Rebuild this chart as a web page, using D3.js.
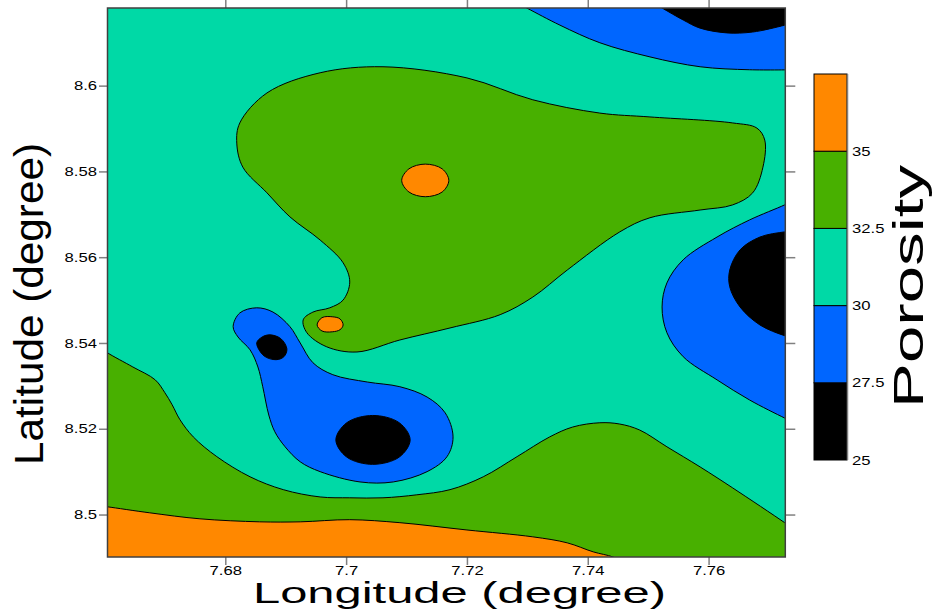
<!DOCTYPE html>
<html>
<head>
<meta charset="utf-8">
<script src="https://cdn.jsdelivr.net/npm/d3@7"></script>
<style>
  body { margin: 0; background: #fff; }
  svg { display: block; font-family: "Liberation Sans", Arial, sans-serif; }
</style>
</head>
<body>
<div id="chart"></div>
<script>
// contour levels and their fill colours (band i runs from levels[i] to levels[i+1])
const levels = [25, 27.5, 30, 32.5, 35, 37.5];
const bandColors = ["#000000", "#0066ff", "#00d9a6", "#48b000", "#ff8800"];

const lonTicks = [7.68, 7.70, 7.72, 7.74, 7.76];
const latTicks = [8.50, 8.52, 8.54, 8.56, 8.58, 8.60];
const legendTicks = [25, 27.5, 30, 32.5, 35];
const lonDomain = [7.6605, 7.7727];
const latDomain = [8.4901, 8.6181];

// closed contours [lon, lat]
const greenCentral = [[7.6819,8.5866],[7.6824,8.5913],[7.6869,8.5983],[7.6957,8.6030],[7.7061,8.6044],[7.7200,8.6018],
  [7.7309,8.5967],[7.7420,8.5936],[7.7503,8.5927],[7.7640,8.5913],[7.7680,8.5901],[7.7693,8.5873],[7.7690,8.5810],
  [7.7673,8.5750],[7.7640,8.5722],[7.7586,8.5710],[7.7503,8.5692],[7.7453,8.5659],[7.7366,8.5570],[7.7309,8.5507],
  [7.7255,8.5466],[7.7172,8.5435],[7.7089,8.5407],[7.7018,8.5379],[7.6968,8.5391],[7.6935,8.5424],[7.6929,8.5454],
  [7.6945,8.5472],[7.6973,8.5482],[7.6995,8.5500],[7.7006,8.5542],[7.6995,8.5587],[7.6957,8.5640],[7.6907,8.5694],
  [7.6869,8.5750],[7.6829,8.5810]];
const orangeCentral = [[7.7092,8.5779],[7.7104,8.5806],[7.7131,8.5817],[7.7159,8.5806],[7.7170,8.5779],[7.7159,8.5752],[7.7131,8.5741],[7.7104,8.5752]];
const orangeTail = [[7.6952,8.5442],[7.6960,8.5459],[7.6978,8.5461],[7.6990,8.5456],[7.6995,8.5442],[7.6990,8.5431],[7.6977,8.5426],[7.6960,8.5428]];
const blueWest = [[7.6813,8.5438],[7.6824,8.5470],[7.6852,8.5482],[7.6879,8.5472],[7.6907,8.5438],[7.6924,8.5400],
  [7.6945,8.5354],[7.6978,8.5326],[7.7035,8.5309],[7.7089,8.5298],[7.7134,8.5274],[7.7164,8.5237],[7.7177,8.5181],
  [7.7167,8.5135],[7.7134,8.5100],[7.7078,8.5076],[7.7023,8.5076],[7.6957,8.5100],[7.6924,8.5123],[7.6899,8.5158],
  [7.6882,8.5193],[7.6872,8.5232],[7.6862,8.5298],[7.6854,8.5344],[7.6841,8.5384],[7.6821,8.5414]];
const blackWestSmall = [[7.6852,8.5400],[7.6861,8.5414],[7.6874,8.5419],[7.6892,8.5410],[7.6902,8.5386],[7.6897,8.5368],[7.6884,8.5361],[7.6864,8.5370]];
const blackWestCentral = [[7.6983,8.5174],[7.7001,8.5214],[7.7044,8.5231],[7.7088,8.5214],[7.7106,8.5174],[7.7088,8.5134],[7.7044,8.5117],[7.7001,8.5134]];

// contours that run into the map edge: the curve, then corners outside the frame
const blueNorthEast = [[7.7273,8.6200],[7.7299,8.6181],[7.7354,8.6141],[7.7420,8.6100],[7.7503,8.6067],[7.7586,8.6044],[7.7668,8.6037],[7.7743,8.6037]];
const blueNorthEastEdge = [[7.7743,8.6211],[7.7263,8.6211]];
const blackNorthEast = [[7.7500,8.6200],[7.7523,8.6181],[7.7558,8.6153],[7.7586,8.6134],[7.7630,8.6123],[7.7673,8.6125],[7.7726,8.6141],[7.7743,8.6148]];
const blackNorthEastEdge = [[7.7743,8.6211],[7.7486,8.6211]];
const blueEast = [[7.7743,8.5734],[7.7726,8.5722],[7.7668,8.5687],[7.7614,8.5647],[7.7558,8.5594],[7.7531,8.5540],[7.7523,8.5484],
  [7.7531,8.5424],[7.7558,8.5368],[7.7614,8.5314],[7.7668,8.5267],[7.7726,8.5225],[7.7743,8.5214]];
const blueEastEdge = [[7.7751,8.5214],[7.7751,8.5734]];
const blackEast = [[7.7743,8.5661],[7.7726,8.5659],[7.7685,8.5647],[7.7652,8.5617],[7.7635,8.5570],[7.7635,8.5531],[7.7652,8.5484],
  [7.7685,8.5442],[7.7726,8.5417],[7.7743,8.5412]];
const blackEastEdge = [[7.7751,8.5412],[7.7751,8.5661]];
const greenSouth = [[7.6593,8.5389],[7.6605,8.5377],[7.6647,8.5344],[7.6684,8.5314],[7.6700,8.5284],[7.6712,8.5256],[7.6725,8.5221],
  [7.6747,8.5181],[7.6786,8.5135],[7.6841,8.5088],[7.6896,8.5058],[7.6957,8.5041],[7.7006,8.5039],[7.7061,8.5039],[7.7117,8.5046],
  [7.7172,8.5058],[7.7227,8.5088],[7.7283,8.5135],[7.7337,8.5181],[7.7375,8.5204],[7.7420,8.5214],[7.7453,8.5211],[7.7486,8.5197],
  [7.7531,8.5158],[7.7586,8.5111],[7.7640,8.5062],[7.7726,8.4981],[7.7743,8.4964]];
const greenSouthEdge = [[7.7751,8.4964],[7.7751,8.4883],[7.6584,8.4883],[7.6584,8.5389]];
const orangeSouth = [[7.6593,8.5020],[7.6605,8.5018],[7.6675,8.5004],[7.6758,8.4990],[7.6857,8.4983],[7.6924,8.4983],[7.7006,8.4988],
  [7.7089,8.4981],[7.7200,8.4964],[7.7309,8.4948],[7.7366,8.4934],[7.7409,8.4913],[7.7442,8.4901],[7.7462,8.4887]];
const orangeSouthEdge = [[7.7470,8.4883],[7.6584,8.4883],[7.6584,8.5020]];

// drawing order, with the lower bound of each band
const layers = [
  { level: 32.5, pts: greenCentral },
  { level: 32.5, pts: greenSouth, edge: greenSouthEdge },
  { level: 35, pts: orangeCentral },
  { level: 35, pts: orangeTail },
  { level: 35, pts: orangeSouth, edge: orangeSouthEdge },
  { level: 27.5, pts: blueWest },
  { level: 27.5, pts: blueNorthEast, edge: blueNorthEastEdge },
  { level: 27.5, pts: blueEast, edge: blueEastEdge },
  { level: 25, pts: blackWestSmall },
  { level: 25, pts: blackWestCentral },
  { level: 25, pts: blackNorthEast, edge: blackNorthEastEdge },
  { level: 25, pts: blackEast, edge: blackEastEdge }
];

const width = 933, height = 615;
const plot = { left: 107.5, right: 785.3, top: 8, bottom: 557 };
const stretch = 1.28; // the original text is drawn wide

const svg = d3.select("#chart").append("svg")
  .attr("width", width)
  .attr("height", height);

const x = d3.scaleLinear().domain(lonDomain).range([plot.left, plot.right]);
const y = d3.scaleLinear().domain(latDomain).range([plot.bottom, plot.top]);
const color = d3.scaleOrdinal().domain(levels.slice(0, 5)).range(bandColors);

svg.append("clipPath").attr("id", "clip")
  .append("rect")
  .attr("x", plot.left).attr("y", plot.top)
  .attr("width", plot.right - plot.left).attr("height", plot.bottom - plot.top);

const map = svg.append("g").attr("clip-path", "url(#clip)");

// background band 30 - 32.5
map.append("rect")
  .attr("x", plot.left).attr("y", plot.top)
  .attr("width", plot.right - plot.left).attr("height", plot.bottom - plot.top)
  .attr("fill", color(30));

const closedLine = d3.line().x(d => x(d[0])).y(d => y(d[1])).curve(d3.curveCatmullRomClosed.alpha(0.5));
const openLine = d3.line().x(d => x(d[0])).y(d => y(d[1])).curve(d3.curveCatmullRom.alpha(0.5));

layers.forEach(l => {
  if (l.edge) {
    const d = openLine(l.pts) + l.edge.map(p => "L" + x(p[0]) + "," + y(p[1])).join("") + "Z";
    map.append("path").attr("d", d).attr("fill", color(l.level));
    map.append("path").attr("d", openLine(l.pts))
      .attr("fill", "none").attr("stroke", "#000").attr("stroke-width", 1);
  } else {
    map.append("path").attr("d", closedLine(l.pts))
      .attr("fill", color(l.level))
      .attr("stroke", "#000").attr("stroke-width", 1);
  }
});

// axes
const tickColor = "#808080";
function styleAxis(g) {
  g.select(".domain").remove();
  g.selectAll(".tick line").attr("stroke", tickColor).attr("stroke-width", 1.5);
  g.selectAll(".tick text").attr("fill", "#000").attr("font-size", 13)
    .attr("font-family", "'Liberation Sans', Arial, sans-serif");
}

svg.append("g").attr("transform", `translate(${plot.left},0)`)
  .call(d3.axisLeft(y).tickValues(latTicks).tickFormat(d => String(d)).tickSize(8.5).tickPadding(2))
  .call(styleAxis);
svg.append("g").attr("transform", `translate(${plot.right},0)`)
  .call(d3.axisRight(y).tickValues(latTicks).tickFormat("").tickSize(10))
  .call(styleAxis);
svg.append("g").attr("transform", `translate(0,${plot.bottom})`)
  .call(d3.axisBottom(x).tickValues(lonTicks).tickFormat(d => String(d)).tickSize(8).tickPadding(1))
  .call(styleAxis);
svg.append("g").attr("transform", `translate(0,${plot.top})`)
  .call(d3.axisTop(x).tickValues(lonTicks).tickFormat("").tickSize(8))
  .call(styleAxis);

// frame
svg.append("rect")
  .attr("x", plot.left).attr("y", plot.top)
  .attr("width", plot.right - plot.left).attr("height", plot.bottom - plot.top)
  .attr("fill", "none").attr("stroke", "#404040").attr("stroke-width", 1.5);

// colour bar
const bar = { x: 814, w: 33 };
const ly = d3.scaleLinear().domain([25, 37.5]).range([460, 74]);
svg.append("g").selectAll("rect")
  .data(d3.range(5))
  .join("rect")
  .attr("x", bar.x).attr("width", bar.w)
  .attr("y", i => ly(levels[i + 1]))
  .attr("height", i => ly(levels[i]) - ly(levels[i + 1]))
  .attr("fill", i => bandColors[i])
  .attr("stroke", "#000").attr("stroke-width", 1);
svg.append("line")
  .attr("x1", bar.x + bar.w + 0.5).attr("x2", bar.x + bar.w + 0.5)
  .attr("y1", ly(37.5)).attr("y2", ly(25))
  .attr("stroke", tickColor).attr("stroke-width", 1.5);
svg.append("g").selectAll("text")
  .data(legendTicks)
  .join("text")
  .attr("x", bar.x + bar.w + 5)
  .attr("y", d => ly(d))
  .attr("dy", "0.35em")
  .attr("font-size", 13)
  .text(d => String(d));

// widen the small labels like the original
svg.selectAll("text").each(function() {
  const len = this.getComputedTextLength();
  if (len > 0) d3.select(this).attr("textLength", len * stretch).attr("lengthAdjust", "spacingAndGlyphs");
});

// titles
svg.append("text")
  .attr("x", 459.5).attr("y", 603)
  .attr("text-anchor", "middle")
  .attr("font-size", 29)
  .attr("textLength", 413).attr("lengthAdjust", "spacingAndGlyphs")
  .text("Longitude (degree)");
svg.append("text")
  .attr("transform", "translate(43,304) rotate(-90)")
  .attr("text-anchor", "middle")
  .attr("font-size", 40)
  .attr("textLength", 322).attr("lengthAdjust", "spacingAndGlyphs")
  .text("Latitude (degree)");
svg.append("text")
  .attr("transform", "translate(923,286.5) rotate(-90)")
  .attr("text-anchor", "middle")
  .attr("font-size", 42)
  .attr("textLength", 243).attr("lengthAdjust", "spacingAndGlyphs")
  .text("Porosity");
</script>
</body>
</html>
